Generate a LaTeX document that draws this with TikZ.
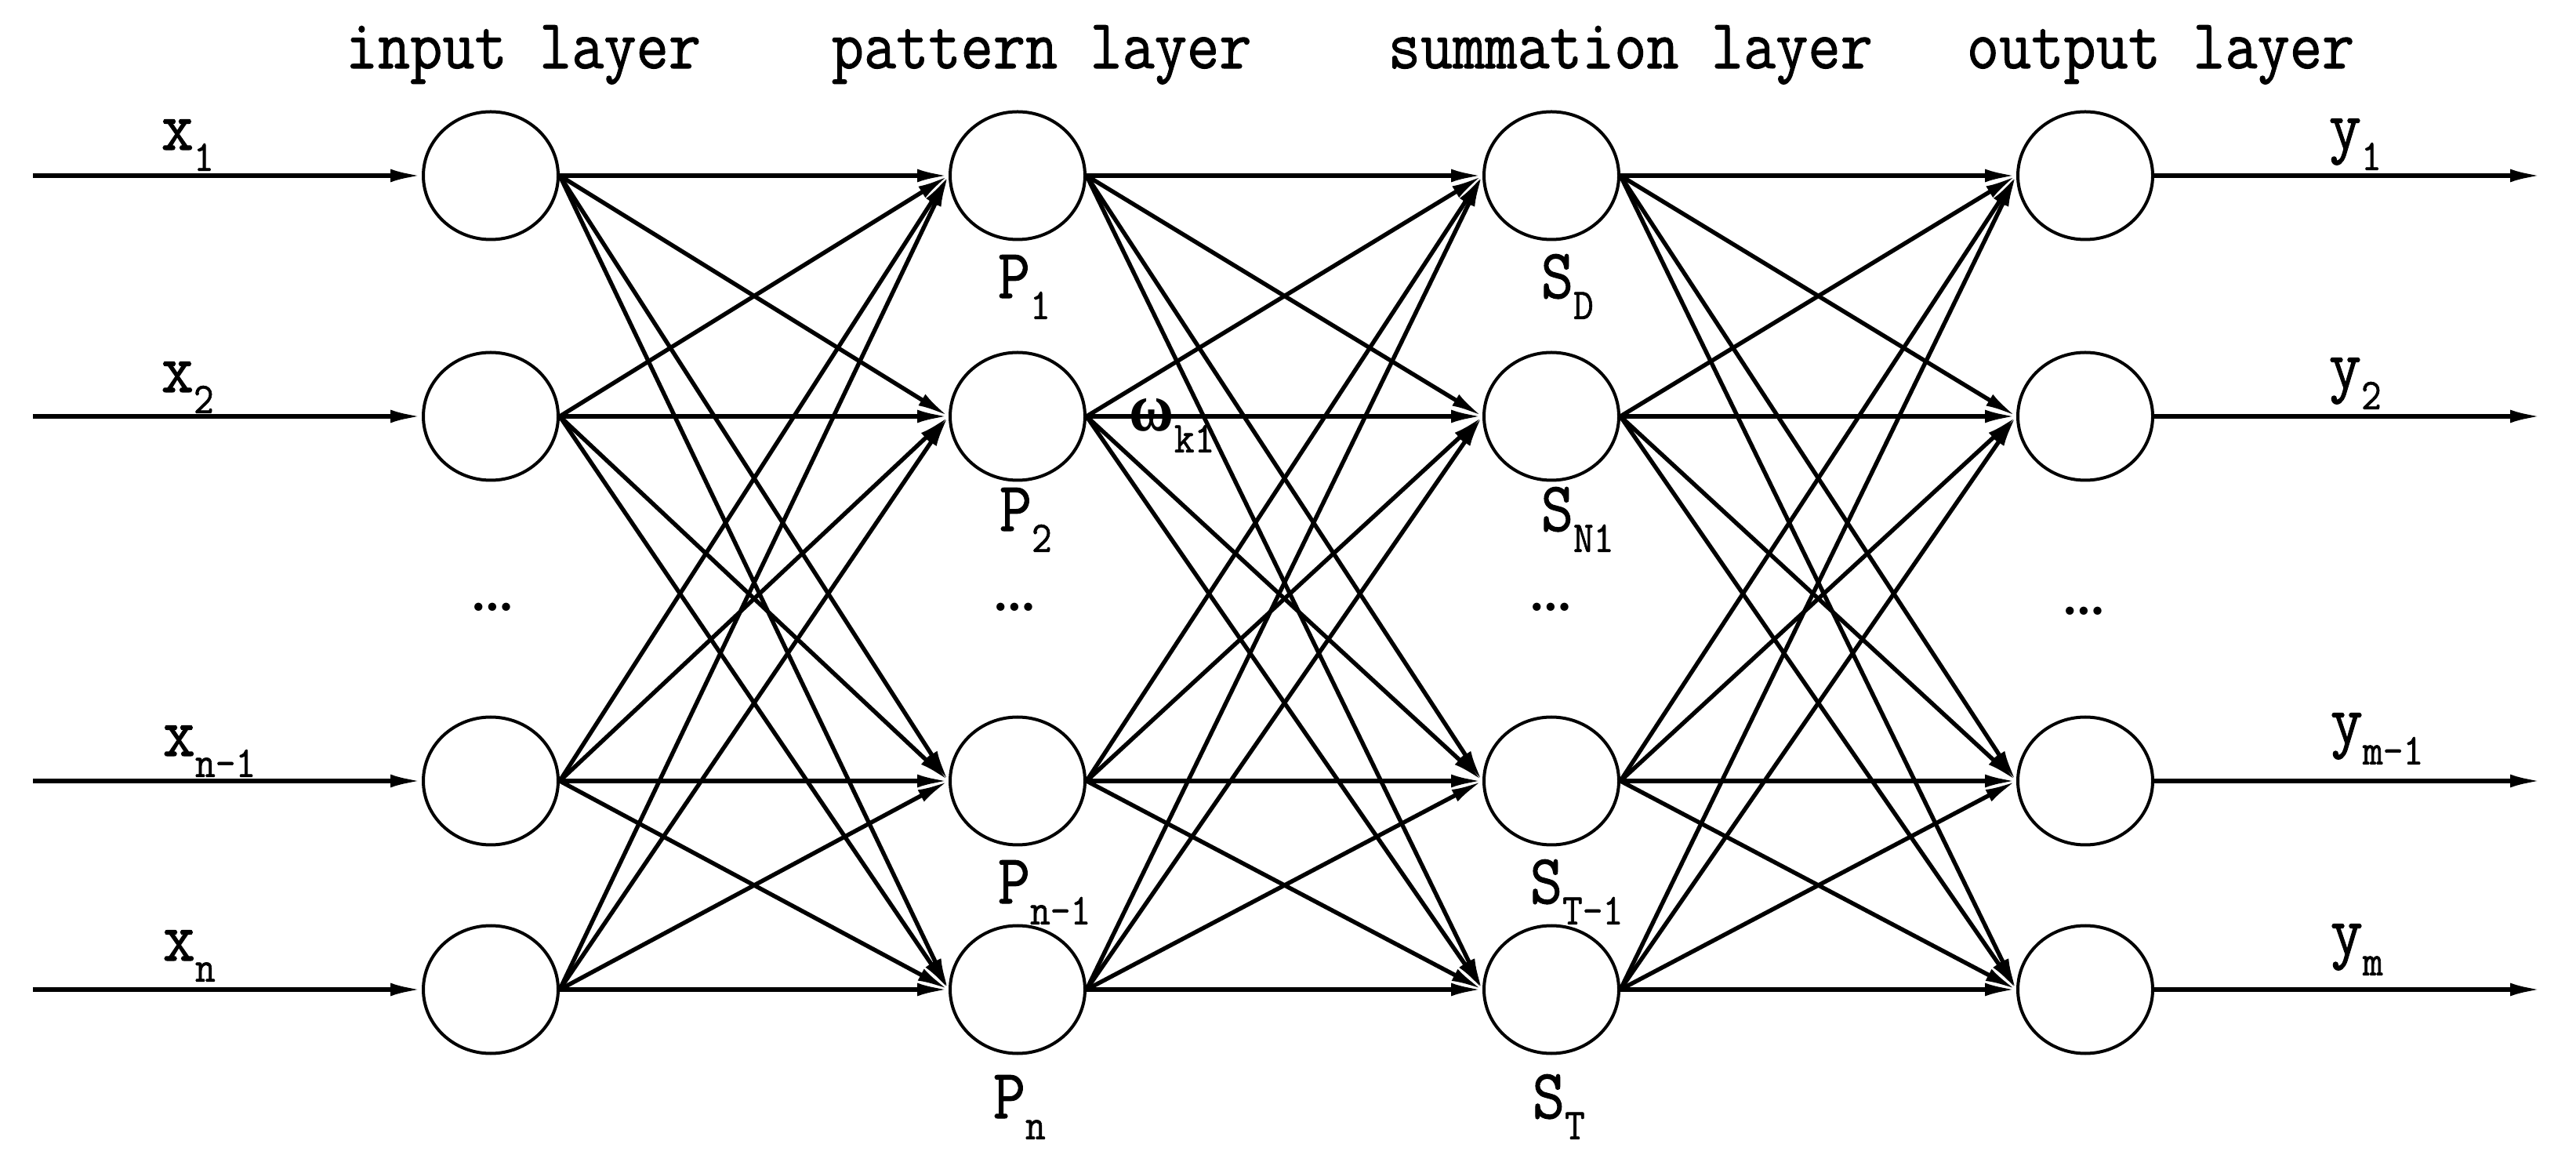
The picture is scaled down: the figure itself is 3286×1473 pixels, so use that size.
\documentclass[tikz,border=0pt]{standalone}
\usepackage{fontspec}
\usetikzlibrary{arrows.meta,shapes.geometric}
\newfontfamily\lbfont{Latin Modern Mono}[FakeBold=1.2]
\newfontfamily\grkfont{Liberation Serif}
\newcommand\sublab[2]{#1\raisebox{-6pt}{\fontsize{12.5}{14}\selectfont #2}}
\tikzset{
  neuron/.style={draw, line width=1pt, ellipse, minimum width=43pt, minimum height=40.75pt, inner sep=0pt},
  conn/.style={line width=1.35pt, -{Latex[length=10pt,width=4.2pt]}},
  ttl/.style={anchor=base west, inner sep=0pt, font=\lbfont\fontsize{20}{24}\selectfont, yscale=1.12, transform shape},
  dotlab/.style={inner sep=0pt, font=\bfseries\fontsize{18}{20}\selectfont},
}
\begin{document}
\begin{tikzpicture}[x=0.25pt,y=-0.25pt]
\useasboundingbox (0,0) rectangle (3286,1473);
\foreach \i/\y in {1/224,2/531,3/996,4/1262}{
  \node[neuron] (I\i) at (626,\y) {};
  \node[neuron] (P\i) at (1298,\y) {};
  \node[neuron] (S\i) at (1979,\y) {};
  \node[neuron] (O\i) at (2660,\y) {};
  \coordinate (A\i) at (42,\y);
  \coordinate (B\i) at (3242,\y);
}
\foreach \i in {1,...,4}{
  \draw[conn] (A\i) -- (I\i.west);
  \draw[conn] (O\i.east) -- (B\i);
  \foreach \j in {1,...,4}{
    \draw[conn] (I\i.east) -- (P\j.west);
    \draw[conn] (P\i.east) -- (S\j.west);
    \draw[conn] (S\i.east) -- (O\j.west);
  }
}
% titles
\node[ttl] (t1) at (440,87) {input layer};
\node[ttl] (t2) at (1060,87) {pattern layer};
\node[ttl] (t3) at (1770,87) {summation layer};
\node[ttl] (t4) at (2508,87) {output layer};
% input labels
\node[ttl] (x1) at (205,191) {\sublab{x}{1}};
\node[ttl] (x2) at (205,500) {\sublab{x}{2}};
\node[ttl] (x3) at (207,964) {\sublab{x}{n-1}};
\node[ttl] (x4) at (207,1225) {\sublab{x}{n}};
% output labels
\node[ttl] (y1) at (2970,190) {\sublab{y}{1}};
\node[ttl] (y2) at (2970,495) {\sublab{y}{2}};
\node[ttl] (y3) at (2972,948) {\sublab{y}{m-1}};
\node[ttl] (y4) at (2972,1217) {\sublab{y}{m}};
% pattern labels
\node[ttl] (p1) at (1272,380) {\sublab{P}{1}};
\node[ttl] (p2) at (1274,677) {\sublab{P}{2}};
\node[ttl] (p3) at (1272,1152) {\sublab{P}{n-1}};
\node[ttl] (p4) at (1266,1426) {\sublab{P}{n}};
% summation labels
\node[ttl] (s1) at (1965,380) {\sublab{S}{D}};
\node[ttl] (s2) at (1965,677) {\sublab{S}{N1}};
\node[ttl] (s3) at (1951,1152) {\sublab{S}{T-1}};
\node[ttl] (s4) at (1954,1426) {\sublab{S}{T}};
% weight label
\node[ttl] (w) at (1440,550) {{\grkfont\bfseries\fontsize{19.5}{22}\selectfont ω}\raisebox{-6pt}{\fontsize{12.5}{14}\selectfont k1}};
% dots
\node[dotlab] (d1) at (628,774) {\textellipsis};
\node[dotlab] (d2) at (1294,774) {\textellipsis};
\node[dotlab] (d3) at (1978,774) {\textellipsis};
\node[dotlab] (d4) at (2658,779) {\textellipsis};
\end{tikzpicture}
\end{document}
